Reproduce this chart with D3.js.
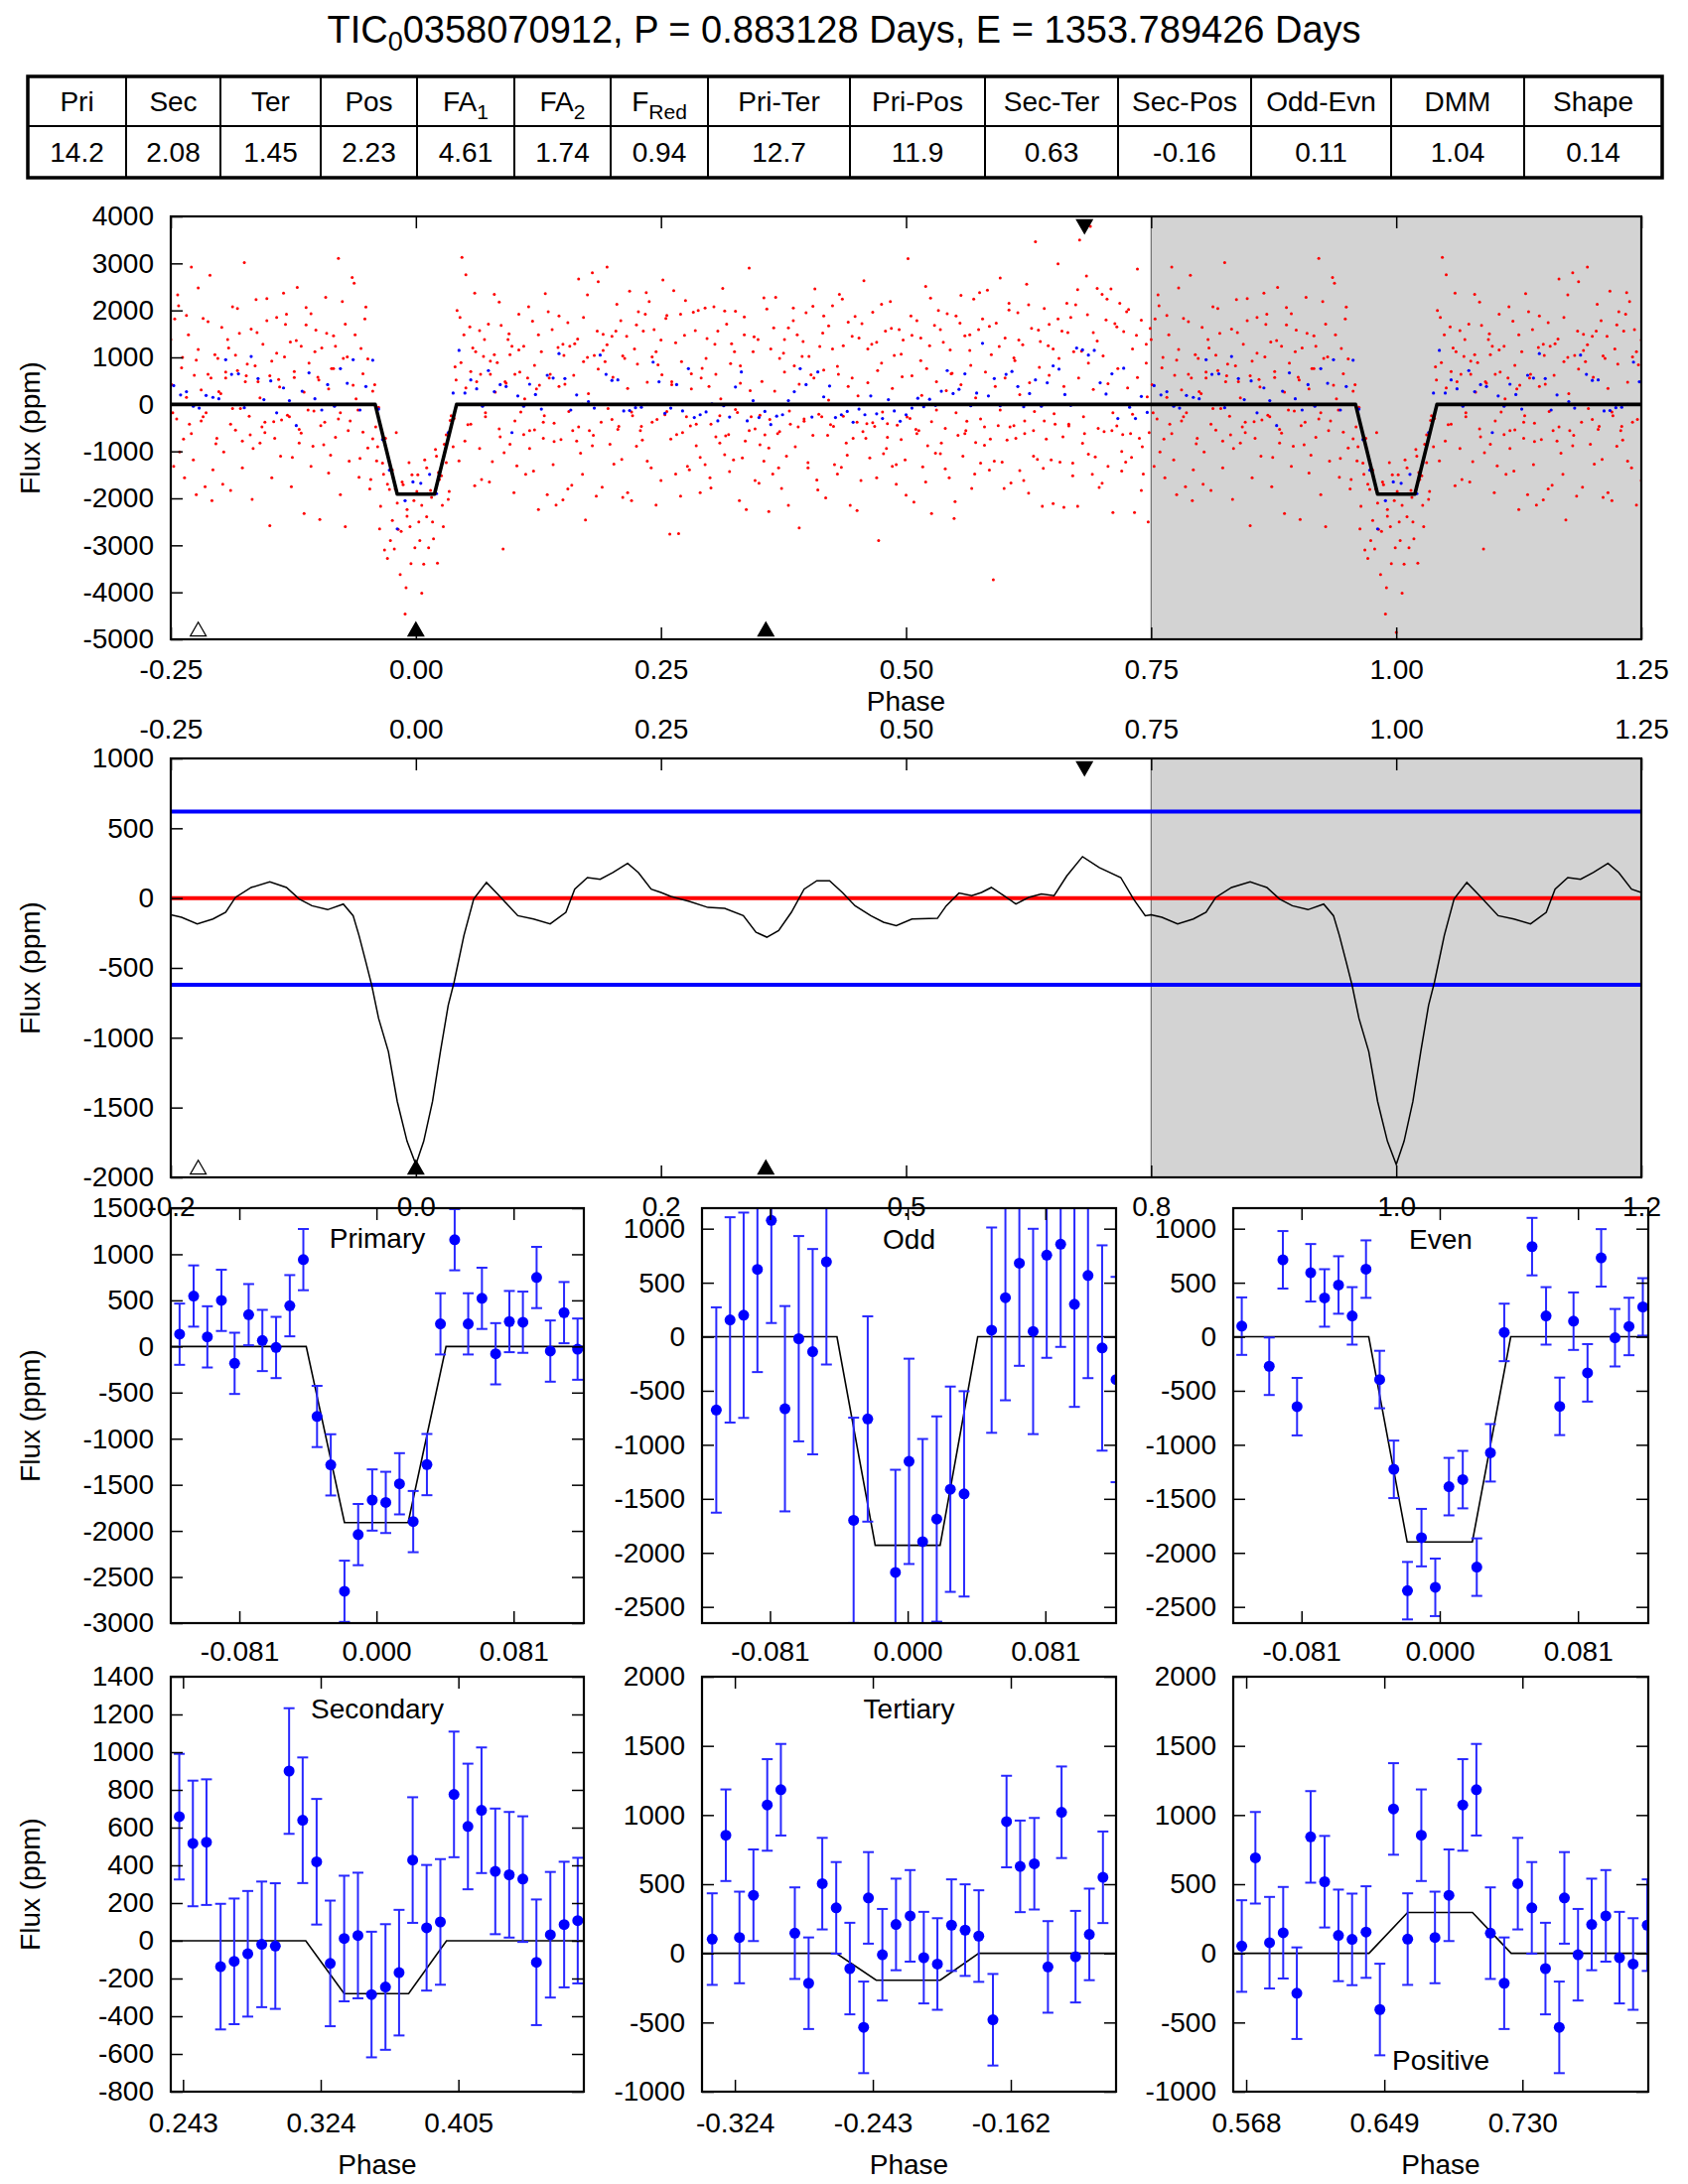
<!DOCTYPE html>
<html lang="en">
<head>
<meta charset="UTF-8">
<title>TIC 00358070912 phase-folded light curve</title>
<script src="https://cdnjs.cloudflare.com/ajax/libs/d3/7.6.1/d3.min.js"></script>
<style>
  body { margin: 0; background: #fff; }
  svg { font-family: "Liberation Sans", Arial, Helvetica, sans-serif; }
</style>
</head>
<body>
<div id="chart"></div>
<script>
// ---- table ----
const tableHead = ["Pri", "Sec", "Ter", "Pos", "FA_1", "FA_2", "F_Red", "Pri-Ter", "Pri-Pos", "Sec-Ter", "Sec-Pos", "Odd-Evn", "DMM", "Shape"];
const tableVals = ["14.2", "2.08", "1.45", "2.23", "4.61", "1.74", "0.94", "12.7", "11.9", "0.63", "-0.16", "0.11", "1.04", "0.14"];

// ---- phase events (triangles): tertiary, primary, secondary, positive ----
const eventPhase = [-0.222, 0.0, 0.357, 0.682];
const eventKind = ["open", "up", "up", "down"];

// ---- top panel: unbinned (red) and binned (blue) flux, phase in 1/1000 ----
const redPts = [
  [-250,1380],[-248,-180],[-246,1820],[-243,2330],[-241,-1010],[-238,1000],[-236,-1560],[-234,1890],[-231,-420],[-229,2920],
  [-226,620],[-224,-1920],[-222,1170],[-219,-350],[-217,1830],[-215,-1750],[-212,640],[-210,2750],[-208,-2050],[-205,1060],
  [-203,-720],[-201,270],[-198,1640],[-196,-1010],[-194,560],[-191,1200],[-189,-1830],[-187,2080],[-184,-550],[-182,720],
  [-180,1510],[-177,-780],[-175,3020],[-173,610],[-170,-250],[-168,1600],[-166,-940],[-163,2230],[-161,480],[-159,-820],
  [-156,1280],[-154,-600],[-152,1780],[-149,-2580],[-147,920],[-145,-370],[-142,1850],[-140,530],[-138,-1100],[-135,2370],
  [-133,1700],[-131,-230],[-128,1330],[-126,-1130],[-124,570],[-121,2490],[-119,-820],[-117,1240],[-114,-2320],[-112,1690],
  [-110,-120],[-107,1930],[-105,-890],[-103,1120],[-100,580],[-98,-2450],[-96,1200],[-93,-380],[-91,1510],[-89,-1460],
  [-86,760],[-84,1460],[-82,-700],[-79,3110],[-77,-180],[-75,2190],[-72,-2600],[-70,1010],[-68,-1210],[-65,2700],
  [-63,2580],[-61,120],[-58,-1550],[-56,1190],[-54,-590],[-51,2070],[-49,970],[-47,-1800],[-44,-730],[-42,420],
  [-40,-1200],[-38,-60],[-36,-2170],[-33,-1490],[-31,-720],[-29,-3280],[-27,-1810],[-24,-2470],[-22,-3080],[-20,-600],
  [-18,-2660],[-16,-3620],[-13,-1710],[-11,-4460],[-9,-2240],[-7,-1240],[-5,-3390],[-2,-2050],[0,-4850],[2,-1500],
  [4,-2900],[6,-4020],[9,-1180],[11,-2390],[13,-3050],[15,-1830],[18,-2860],[20,-960],[22,-3380],[24,-1600],
  [27,-2150],[29,-850],[31,-1240],[33,-2020],[35,-340],[38,-900],[40,800],[42,2000],[44,-1200],[47,3130],
  [49,1480],[51,2760],[53,-430],[56,700],[58,1200],[60,-1730],[62,480],[65,1570],[67,-1600],[69,1020],
  [71,-260],[74,1710],[76,640],[78,-1220],[80,2340],[83,890],[85,-520],[87,1680],[89,-3080],[92,450],
  [94,1380],[96,-850],[98,1240],[101,640],[103,-1310],[105,1920],[107,-160],[110,1240],[112,-1490],[114,560],
  [116,-940],[119,1770],[121,-540],[123,330],[125,-2240],[128,1120],[130,-720],[132,2360],[134,-1920],[137,640],
  [139,1590],[141,-400],[143,-2140],[146,1880],[148,-750],[150,1280],[152,430],[155,-1800],[157,1240],[159,-1720],
  [162,1290],[164,-780],[166,2670],[168,-1040],[171,1850],[173,-2460],[175,1000],[177,-560],[180,2800],[182,1040],
  [184,-1950],[186,2610],[189,-380],[191,1490],[193,910],[195,2920],[198,-850],[200,1450],[202,-1270],[204,1560],
  [207,-470],[209,1780],[211,-1980],[213,980],[216,-1880],[218,2410],[220,-160],[223,1180],[225,-890],[227,1970],
  [229,-560],[232,1560],[234,1920],[236,-1210],[238,2190],[241,-380],[243,1590],[245,-2140],[247,840],[250,1370],
  [252,2650],[254,-220],[256,1890],[259,-2760],[261,480],[263,2420],[265,-1480],[268,-2750],[270,1920],[272,-600],
  [274,1470],[277,-1320],[279,-1390],[281,650],[283,1960],[286,-420],[288,2000],[290,-1880],[292,770],[295,-1280],
  [297,1400],[299,380],[301,-1780],[304,2080],[306,-690],[308,1560],[310,-240],[313,2470],[315,-1070],[317,1710],
  [319,-640],[322,1290],[324,-1180],[326,1980],[328,-170],[331,820],[333,-1140],[335,1480],[337,-2240],[340,2900],
  [342,-260],[344,1120],[346,-1620],[349,1380],[351,-860],[353,490],[355,-1210],[358,2030],[360,-2280],[362,1180],
  [364,-1480],[367,2280],[369,-620],[371,980],[373,-1790],[376,1380],[378,-1100],[380,1630],[382,-420],[385,2050],
  [387,-900],[389,1480],[391,-2630],[394,1020],[396,-310],[398,1950],[400,-1350],[403,630],[405,-660],[407,2460],
  [409,-1610],[412,1230],[414,-260],[416,1880],[418,-1990],[421,1670],[423,-430],[425,2100],[427,-1280],[430,810],
  [432,2340],[434,-1340],[436,1250],[439,-820],[441,1750],[443,-2150],[445,560],[448,1870],[450,-380],[452,1410],
  [454,-1620],[457,2630],[459,-720],[461,1180],[463,-1140],[466,1960],[468,-470],[470,1320],[472,-2900],[475,880],
  [477,-1050],[479,1560],[481,-410],[484,2190],[486,-1320],[488,1040],[490,-1700],[493,1590],[495,-750],[497,1370],
  [499,-1180],[502,3100],[504,-300],[506,1470],[508,-2080],[511,1780],[513,-560],[515,930],[517,-1330],[520,2510],
  [522,-880],[524,1250],[526,-2320],[529,1680],[531,-120],[533,2000],[535,-1050],[538,1320],[540,-510],[542,1930],
  [544,-1560],[547,660],[549,-2430],[551,1880],[553,-660],[556,2320],[558,-1100],[560,1460],[562,-360],[565,1150],
  [567,-1790],[569,2240],[571,-810],[574,1590],[576,-1250],[578,1820],[580,-480],[583,2430],[585,-1400],[587,1060],
  [589,-3730],[592,1730],[594,-450],[596,2690],[598,-1230],[601,1410],[603,-760],[605,2150],[607,-1670],[610,990],
  [612,-720],[614,1950],[616,-1410],[619,1270],[621,-350],[623,2560],[625,-1890],[628,1620],[630,-560],[632,3460],
  [634,-1170],[637,1340],[639,-2170],[641,2040],[643,-740],[646,1700],[648,-1180],[650,1180],[652,-420],[655,2990],
  [657,-1230],[659,1560],[661,-2190],[664,2150],[666,-460],[668,1850],[670,-1520],[673,2120],[675,-2170],[677,3500],
  [679,1130],[682,-620],[684,2730],[686,-1060],[688,3790],[691,1530],[693,-1120],[695,2470],[697,-1770],[700,2340],
  [702,-580],[704,1800],[706,-1320],[709,2460],[711,-2300],[713,1720],[715,-460],[718,2150],[720,-1000],[722,1550],
  [724,-1230],[727,2020],[729,-620],[731,1180],[733,-2300],[736,2880],[738,-720],[740,1790],[742,-1480],[745,880],[747,-2500],[749,1620],
  [-249,420],[-244,-310],[-239,780],[-234,150],[-229,-620],[-224,940],[-219,310],[-214,-180],[-209,560],[-204,-840],
  [-199,230],[-194,690],[-189,-420],[-184,1050],[-179,-90],[-174,480],[-169,-650],[-164,820],[-159,140],[-154,-380],
  [-149,610],[-144,-720],[-139,370],[-134,1010],[-129,-260],[-124,700],[-119,-530],[-114,260],[-109,880],[-104,-140],
  [-99,520],[-94,-860],[-89,330],[-84,760],[-79,-310],[-74,980],[-69,-560],[-64,410],[-59,-120],[-54,650],
  [-49,-930],[-44,280],[-39,-900],[-34,-1250],[-29,-1700],[-24,-1400],[-19,-2100],[-14,-1650],[-9,-2380],[-4,-1500],
  [1,-1850],[6,-2150],[11,-1350],[16,-1980],[21,-1100],[26,-1520],[31,-650],[36,-240],[41,520],[46,890],
  [51,350],[56,-420],[61,1120],[66,640],[71,-180],[76,920],[81,260],[86,-690],[91,480],[96,1060],
  [101,-350],[106,690],[111,120],[116,-560],[121,830],[126,410],[131,-240],[136,560],[141,-790],[146,380],
  [151,1040],[156,-150],[161,620],[166,-480],[171,910],[176,230],[181,-660],[186,750],[191,1150],[196,-90],
  [201,580],[206,-530],[211,1030],[216,340],[221,-240],[226,860],[231,-760],[236,470],[241,1010],[246,-320],
  [251,630],[256,-150],[261,420],[266,-640],[271,910],[276,-260],[281,330],[286,-880],[291,560],[296,980],
  [301,-420],[306,640],[311,120],[316,-670],[321,870],[326,-110],[331,450],[336,-780],[341,290],[346,-520],
  [351,-230],[356,-650],[361,-320],[366,280],[371,-580],[376,690],[381,-140],[386,820],[391,430],[396,-360],
  [401,1020],[406,560],[411,-210],[416,730],[421,90],[426,-470],[431,640],[436,-250],[441,380],[446,-720],
  [451,180],[456,-580],[461,460],[466,-390],[471,720],[476,-160],[481,-700],[486,340],[491,-440],[496,590],
  [501,-270],[506,610],[511,-620],[516,190],[521,760],[526,-370],[531,480],[536,-820],[541,290],[546,650],
  [551,-180],[556,420],[561,-560],[566,830],[571,140],[576,-310],[581,690],[586,-740],[591,380],[596,-120],
  [601,560],[606,-480],[611,930],[616,210],[621,-620],[626,460],[631,-150],[636,790],[641,-350],[646,620],
  [651,-200],[656,980],[661,380],[666,-420],[671,1120],[676,560],[681,-260],[686,880],[691,320],[696,-510],
  [701,1030],[706,440],[711,-180],[716,760],[721,-640],[726,350],[731,-210],[736,570],[741,-900],[746,160],
  [-247,-1320],[-242,2100],[-237,-740],[-232,1480],[-227,-1180],[-222,2480],[-217,-260],[-212,1760],[-207,-1390],[-202,980],
  [-197,-1700],[-192,1380],[-187,-90],[-182,2040],[-177,-1350],[-172,860],[-167,-2020],[-162,1530],[-157,-480],[-152,2250],
  [-147,-1560],[-142,1090],[-137,-330],[-132,1920],[-127,-1750],[-122,1360],[-117,-610],[-112,2060],[-107,-1320],[-102,1580],
  [-97,-450],[-92,2280],[-87,-1080],[-82,1240],[-77,-1920],[-72,1710],[-67,-350],[-62,1480],[-57,-1150],[-52,1820],
  [-46,-1600],[-41,-480],[-37,-2650],[-32,-3100],[-26,-2900],[-21,-1800],[-15,-2700],[-10,-3900],[-6,-2600],[-1,-3050],
  [3,-2500],[8,-3400],[12,-1900],[17,-2500],[23,-1450],[28,-2600],[34,-1850],[39,-300],[45,1850],[50,-780],
  [55,1650],[60,2370],[65,-940],[70,1380],[75,-1650],[80,1060],[85,2180],[90,-1030],[95,1500],[100,-1880],
  [105,1160],[110,-640],[115,2080],[120,-1420],[125,1480],[130,-380],[135,1970],[140,-1280],[145,1210],[150,-2030],
  [155,1740],[160,-560],[165,1390],[170,-1490],[175,2330],[180,-880],[185,1560],[190,-1760],[195,1270],[200,-320],
  [205,2130],[210,-1170],[215,1450],[220,-2050],[225,1690],[230,-470],[235,2380],[240,-1350],[245,1120],[250,-1620],
  [255,1830],[260,-740],[265,1310],[270,-1950],[275,2210],[280,-460],[285,1570],[290,-1130],[295,2050],[300,-1560],
  [305,1280],[310,-820],[315,1990],[320,-1430],[325,1120],[330,-2050],[335,1860],[340,-560],[345,1440],[350,-1680],
  [355,2270],[360,-930],[365,1630],[370,-1350],[375,1090],[380,-2150],[385,1780],[390,-480],[395,1340],[400,-1240],
  [405,2090],[410,-1820],[415,1520],[420,-660],[425,1180],[430,-1480],[435,2240],[440,-1080],[445,1450],[450,-2260],
  [455,1720],[460,-410],[465,1280],[470,-1560],[475,2130],[480,-940],[485,1620],[490,-1280],[495,1070],[500,-1930],
  [505,1880],[510,-530],[515,1410],[520,-1650],[525,2260],[530,-1040],[535,1590],[540,-1370],[545,1160],[550,-2070],
  [555,1730],[560,-620],[565,1480],[570,-1480],[575,2380],[580,-870],[585,1660],[590,-1210],[595,1230],[600,-1790],
  [605,2010],[610,-450],[615,1370],[620,-1620],[625,2120],[630,-1100],[635,1580],[640,-1360],[645,1250],[650,-2110],
  [655,1820],[660,-690],[665,1530],[670,-1250],[675,2440],[680,-830],[685,1910],[690,-1490],[695,1350],[700,-1680],
  [705,2240],[710,-560],[715,1650],[720,-1420],[725,1970],[730,-1130],[735,1470],[740,-1830],[745,1280],[748,-600]
];
const bluePts = [
  [-247,400],[-240,200],[-234,270],[-227,-40],[-221,-80],[-214,190],[-207,150],[-201,120],[-194,950],[-188,640],
  [-181,650],[-175,-70],[-168,1020],[-161,550],[-155,100],[-148,500],[-142,-180],[-135,350],[-129,80],[-122,-450],
  [-116,280],[-109,670],[-103,120],[-96,-120],[-90,420],[-83,-40],[-77,760],[-70,450],[-64,950],[-57,-120],
  [-51,380],[-44,940],[-38,-100],[-34,-750],[-27,-1400],[-19,-2650],[-11,-2050],[-3,-1650],[5,-1680],[14,-1490],
  [21,-1900],[27,-1250],[33,-600],[38,240],[44,1150],[50,240],[56,520],[62,330],[68,-40],[74,720],
  [80,270],[86,420],[92,380],[98,-600],[104,180],[110,-40],[116,430],[122,210],[128,-100],[134,620],
  [140,560],[146,1080],[152,550],[158,-120],[164,200],[170,0],[176,60],[182,-80],[188,1050],[194,640],
  [200,510],[206,520],[212,-140],[218,-130],[224,-70],[230,-60],[236,0],[242,900],[248,480],[254,-190],
  [260,-80],[266,420],[272,-140],[278,760],[284,-280],[290,-220],[296,-160],[302,10],[308,-350],[314,-30],
  [320,-270],[326,370],[332,690],[338,-350],[344,80],[350,-280],[356,-150],[362,-430],[368,-250],[374,-220],
  [380,80],[386,270],[392,760],[398,420],[404,-270],[410,690],[416,160],[422,390],[428,-280],[434,-220],
  [440,-150],[446,-380],[452,-100],[458,-220],[464,180],[470,-200],[476,-300],[482,100],[488,-140],[494,-360],
  [500,-220],[506,-80],[512,130],[518,-50],[524,110],[530,-20],[536,280],[542,720],[548,230],[554,320],
  [560,650],[566,-30],[572,240],[578,1300],[584,180],[590,550],[596,-30],[602,640],[608,700],[614,380],
  [620,-50],[626,230],[632,520],[638,-40],[644,460],[650,820],[656,750],[662,210],[668,-20],[674,1200],
  [680,1160],[686,1050],[692,1150],[698,460],[704,220],[710,650],[716,-300],[722,770],[728,-60],[734,-300],[740,170],[746,-170]
];
const modelPhase = [-0.25, -0.0415, -0.019, 0.019, 0.0415, 0.25, 0.75];
const modelFlux = [0, 0, -1910, -1910, 0, 0, 0];

// ---- second panel: smoothed curve ----
const smoothPhase = [-0.250,-0.239,-0.223,-0.207,-0.194,-0.184,-0.168,-0.149,-0.132,-0.119,
  -0.106,-0.090,-0.074,-0.064,-0.058,-0.051,-0.045,-0.038,-0.028,-0.019,
  -0.009,0.000,0.008,0.017,0.025,0.033,0.039,0.049,0.059,0.072,
  0.085,0.104,0.120,0.137,0.153,0.162,0.175,0.188,0.201,0.216,
  0.227,0.240,0.250,0.260,0.279,0.298,0.315,0.334,0.347,0.358,
  0.370,0.383,0.396,0.409,0.422,0.435,0.448,0.464,0.477,0.490,
  0.506,0.532,0.541,0.554,0.567,0.577,0.587,0.600,0.612,0.625,
  0.638,0.651,0.664,0.680,0.697,0.719,0.732,0.744,0.750];
const smoothFlux = [-119,-138,-185,-150,-102,5,76,116,76,-7,
  -55,-83,-43,-126,-268,-458,-625,-862,-1100,-1456,
  -1741,-1907,-1741,-1456,-1100,-767,-601,-268,-7,112,
  17,-126,-150,-185,-102,64,147,135,183,249,
  183,64,40,12,-24,-67,-74,-126,-245,-280,
  -233,-102,64,124,124,40,-55,-126,-173,-197,
  -150,-145,-55,36,17,40,76,17,-43,5,
  29,17,159,297,219,147,-7,-126,-120];
const sigmaLines = [620, -620];
const p2BottomLabels = ["-0.2", "0.0", "0.2", "0.5", "0.8", "1.0", "1.2"];

// ---- binned panels ----
const priPhase = [-0.1163,-0.1080,-0.0999,-0.0916,-0.0838,-0.0755,-0.0674,-0.0593,-0.0512,-0.0432,-0.0351,-0.0270,-0.0189,-0.0108,-0.0025,0.0055,0.0136,0.0217,0.0298,0.0378,0.0462,0.0542,0.0623,0.0704,0.0785,0.0865,0.0946,0.1027,0.1108,0.1188];
const priFlux = [133,547,104,500,-183,345,65,-11,442,942,-759,-1284,-2655,-2040,-1665,-1691,-1489,-1899,-1281,245,1158,245,522,-79,270,263,748,-50,367,-29];
const priErr = 332;
const priModelPhase = [-0.1215,-0.0415,-0.0189,0.0187,0.0411,0.1225];
const priModelFlux = [0,0,-1910,-1910,0,0];

const oddPhase = [-0.1126,-0.1045,-0.0965,-0.0884,-0.0802,-0.0722,-0.0641,-0.0559,-0.0478,-0.0318,-0.0235,-0.0072,0.0008,0.0088,0.0171,0.0251,0.0332,0.0494,0.0575,0.0657,0.0738,0.0818,0.0900,0.0981,0.1061,0.1144,0.1226];
const oddFlux = [-678,156,199,623,1077,-666,-18,-138,693,-1699,-761,-2181,-1153,-1896,-1687,-1411,-1454,61,362,681,49,755,856,301,567,-104,-396];
const oddErr = 950;
const oddModelPhase = [-0.1215,-0.0416,-0.0191,0.0191,0.0412,0.1225];
const oddModelFlux = [0,0,-1930,-1930,0,0];

const evenPhase = [-0.1160,-0.0999,-0.0919,-0.0836,-0.0756,-0.0675,-0.0593,-0.0513,-0.0432,-0.0352,-0.0269,-0.0189,-0.0107,-0.0026,0.0054,0.0135,0.0217,0.0297,0.0378,0.0541,0.0623,0.0703,0.0784,0.0866,0.0946,0.1027,0.1109,0.1190];
const evenFlux = [98,-273,712,-647,592,359,479,193,626,-396,-1227,-2350,-1859,-2319,-1387,-1322,-2132,-1074,40,834,193,-644,144,-334,730,-9,95,276];
const evenErr = 266;
const evenModelPhase = [-0.1215,-0.0416,-0.0191,0.0191,0.0416,0.1225];
const evenModelFlux = [0,0,-1899,-1899,0,0];

const secPhase = [0.2408,0.2488,0.2568,0.2651,0.2731,0.2811,0.2893,0.2973,0.3054,0.3134,0.3216,0.3296,0.3378,0.3459,0.3539,0.3621,0.3701,0.3781,0.3863,0.3944,0.4024,0.4106,0.4186,0.4267,0.4349,0.4429,0.4509,0.4591,0.4672,0.4752];
const secFlux = [658,516,523,-137,-109,-69,-19,-28,900,639,419,-120,12,28,-285,-245,-169,428,69,100,776,606,692,368,350,327,-114,32,86,107];
const secErr = 333;
const secModelPhase = [0.2358,0.3152,0.3378,0.3757,0.3980,0.4788];
const secModelFlux = [0,0,-280,-280,0,0];

const terPhase = [-0.3373,-0.3293,-0.3213,-0.3131,-0.3050,-0.2970,-0.2888,-0.2807,-0.2727,-0.2645,-0.2565,-0.2484,-0.2456,-0.2374,-0.2294,-0.2211,-0.2131,-0.2051,-0.1968,-0.1888,-0.1808,-0.1725,-0.1645,-0.1565,-0.1482,-0.1402,-0.1322,-0.1240,-0.1159,-0.1079];
const terFlux = [103,854,115,420,1073,1183,146,-216,504,329,-110,-535,401,-10,209,271,-31,-77,204,168,125,-480,953,629,648,-98,1020,-24,137,550];
const terErr = 331;
const terModelPhase = [-0.3433,-0.2645,-0.2410,-0.2035,-0.1808,-0.1002];
const terModelFlux = [0,0,-194,-194,0,0];

const posPhase = [0.5654,0.5734,0.5817,0.5897,0.5977,0.6058,0.6140,0.6221,0.6301,0.6383,0.6464,0.6544,0.6627,0.6707,0.6787,0.6869,0.6950,0.7030,0.7112,0.7193,0.7273,0.7355,0.7435,0.7516,0.7546,0.7626,0.7706,0.7789,0.7869,0.7949,0.8032];
const posFlux = [53,691,77,149,-288,842,518,130,101,154,-406,1044,103,854,115,420,1073,1183,146,-216,504,329,-110,-535,401,-10,209,271,-31,-77,204];
const posErr = 331;
const posModelPhase = [0.5604,0.6400,0.6627,0.7007,0.7234,0.8038];
const posModelFlux = [0,0,295,295,0,0];

// tick values
const topXTicks = [-0.25, 0, 0.25, 0.5, 0.75, 1.0, 1.25];
const topYTicks = [4000, 3000, 2000, 1000, 0, -1000, -2000, -3000, -4000, -5000];
const p2YTicks = [1000, 500, 0, -500, -1000, -1500, -2000];
const priYTicks = [1500, 1000, 500, 0, -500, -1000, -1500, -2000, -2500, -3000];
const oeYTicks = [1000, 500, 0, -500, -1000, -1500, -2000, -2500];
const secYTicks = [1400, 1200, 1000, 800, 600, 400, 200, 0, -200, -400, -600, -800];
const tpYTicks = [2000, 1500, 1000, 500, 0, -500, -1000];

// ================= drawing =================
const fs = 28;
const svg = d3.select("#chart").append("svg").attr("width", 1700).attr("height", 2200);
let clipId = 0;

// title
const title = svg.append("text").attr("x", 850).attr("y", 43).attr("text-anchor", "middle").attr("font-size", 38);
title.append("tspan").text("TIC");
title.append("tspan").attr("font-size", 27).attr("dy", 8).text("0");
title.append("tspan").attr("dy", -8).text("0358070912, P = 0.883128 Days, E = 1353.789426 Days");

// table
const colEdges = [28, 127, 222, 323, 420, 518, 615, 713, 856, 992, 1126, 1260, 1401, 1535, 1674];
const tb = svg.append("g");
tb.append("rect").attr("x", 28).attr("y", 77).attr("width", 1646).attr("height", 102)
  .attr("fill", "none").attr("stroke", "#000").attr("stroke-width", 3.5);
tb.append("line").attr("x1", 28).attr("x2", 1674).attr("y1", 127).attr("y2", 127).attr("stroke", "#000").attr("stroke-width", 2);
colEdges.slice(1, -1).forEach(cx => {
  tb.append("line").attr("x1", cx).attr("x2", cx).attr("y1", 77).attr("y2", 179).attr("stroke", "#000").attr("stroke-width", 2);
});
tableHead.forEach((h, i) => {
  const cx = (colEdges[i] + colEdges[i + 1]) / 2;
  const parts = h.split("_");
  const t = tb.append("text").attr("x", cx).attr("y", 112).attr("text-anchor", "middle").attr("font-size", fs);
  t.append("tspan").text(parts[0]);
  if (parts[1]) t.append("tspan").attr("font-size", 21).attr("dy", 8).text(parts[1]);
  tb.append("text").attr("x", cx).attr("y", 163).attr("text-anchor", "middle").attr("font-size", fs).text(tableVals[i]);
});

function makePanel(o) {
  const x = d3.scaleLinear().domain(o.xd).range([o.l, o.r]);
  const y = d3.scaleLinear().domain(o.yd).range([o.b, o.t]);
  const id = "clip" + (clipId++);
  svg.append("clipPath").attr("id", id).append("rect")
    .attr("x", o.l).attr("y", o.t).attr("width", o.r - o.l).attr("height", o.b - o.t);
  const plot = svg.append("g").attr("clip-path", `url(#${id})`);
  return { x, y, plot, o };
}

function drawAxis(gen, tx, ty, keepLabels) {
  const g = svg.append("g").attr("transform", `translate(${tx},${ty})`).call(gen);
  g.attr("font-size", fs).attr("font-family", null);
  g.select(".domain").remove();
  g.selectAll(".tick line").attr("stroke-width", 1.5);
  if (!keepLabels) g.selectAll(".tick text").remove();
  return g;
}

function border(o) {
  svg.append("rect").attr("x", o.l).attr("y", o.t).attr("width", o.r - o.l).attr("height", o.b - o.t)
    .attr("fill", "none").attr("stroke", "#000").attr("stroke-width", 2.2);
}

function yLabel(o) {
  const cy = (o.t + o.b) / 2;
  svg.append("text").attr("transform", `translate(40,${cy}) rotate(-90)`).attr("text-anchor", "middle")
    .attr("font-size", fs).text("Flux (ppm)");
}

function shade(p) {
  p.plot.append("rect").attr("x", p.x(0.75)).attr("y", p.o.t).attr("width", p.x(1.25) - p.x(0.75)).attr("height", p.o.b - p.o.t)
    .attr("fill", "#d3d3d3");
  p.plot.append("line").attr("x1", p.x(0.75)).attr("x2", p.x(0.75)).attr("y1", p.o.t).attr("y2", p.o.b)
    .attr("stroke", "#6e6e6e").attr("stroke-width", 1.2);
}

function events(p) {
  const tri = d3.symbol().type(d3.symbolTriangle).size(110);
  eventPhase.forEach((ph, i) => {
    const k = eventKind[i];
    const cy = k === "down" ? p.o.t + 8 : p.o.b - 8;
    svg.append("path").attr("d", tri())
      .attr("transform", `translate(${p.x(ph)},${cy})` + (k === "down" ? " rotate(180)" : ""))
      .attr("fill", k === "open" ? "#fff" : "#000").attr("stroke", "#000").attr("stroke-width", 1.2);
  });
}

// wrap a phase series so the -0.25..0.25 part repeats at 0.75..1.25
function wrapPts(pts) {
  return pts.concat(pts.filter(d => d[0] <= 0.25).map(d => [d[0] + 1, d[1]]));
}

// ---------- panel 1 ----------
const o1 = { l: 172, r: 1653, t: 218, b: 644, xd: [-0.25, 1.25], yd: [-5000, 4000] };
const p1 = makePanel(o1);
shade(p1);
const red = wrapPts(redPts.map(d => [d[0] / 1000, d[1]]));
const blue = wrapPts(bluePts.map(d => [d[0] / 1000, d[1]]));
p1.plot.append("g").attr("fill", "#ff0000").selectAll("circle").data(red).join("circle")
  .attr("cx", d => p1.x(d[0])).attr("cy", d => p1.y(d[1])).attr("r", 1.5);
p1.plot.append("g").attr("fill", "#0000ff").selectAll("circle").data(blue).join("circle")
  .attr("cx", d => p1.x(d[0])).attr("cy", d => p1.y(d[1])).attr("r", 1.6);
const model = wrapPts(d3.zip(modelPhase, modelFlux)).sort((a, b) => a[0] - b[0]);
p1.plot.append("path").datum(model)
  .attr("d", d3.line().x(d => p1.x(d[0])).y(d => p1.y(d[1])))
  .attr("fill", "none").attr("stroke", "#000").attr("stroke-width", 3.6).attr("stroke-linejoin", "round");
drawAxis(d3.axisBottom(p1.x).tickValues(topXTicks).tickSize(-12).tickPadding(20).tickFormat(d => d.toFixed(2)), 0, o1.b, true);
drawAxis(d3.axisTop(p1.x).tickValues(topXTicks).tickSize(-12), 0, o1.t, false);
drawAxis(d3.axisLeft(p1.y).tickValues(topYTicks).tickSize(-12).tickPadding(17).tickFormat(d => String(d)), o1.l, 0, true);
border(o1);
events(p1);
yLabel(o1);
svg.append("text").attr("x", (o1.l + o1.r) / 2).attr("y", 716).attr("text-anchor", "middle").attr("font-size", fs).text("Phase");

// ---------- panel 2 ----------
const o2 = { l: 172, r: 1653, t: 764, b: 1186, xd: [-0.25, 1.25], yd: [-2000, 1000] };
const p2 = makePanel(o2);
shade(p2);
sigmaLines.forEach(v => {
  p2.plot.append("line").attr("x1", o2.l).attr("x2", o2.r).attr("y1", p2.y(v)).attr("y2", p2.y(v))
    .attr("stroke", "#0000ff").attr("stroke-width", 4);
});
p2.plot.append("line").attr("x1", o2.l).attr("x2", o2.r).attr("y1", p2.y(0)).attr("y2", p2.y(0))
  .attr("stroke", "#ff0000").attr("stroke-width", 4);
const smooth = wrapPts(d3.zip(smoothPhase, smoothFlux).filter(d => d[0] < 0.75).concat([[0.75, smoothFlux[smoothFlux.length - 1]]]));
smooth.sort((a, b) => a[0] - b[0]);
p2.plot.append("path").datum(smooth)
  .attr("d", d3.line().x(d => p2.x(d[0])).y(d => p2.y(d[1])))
  .attr("fill", "none").attr("stroke", "#000").attr("stroke-width", 1.5);
drawAxis(d3.axisTop(p2.x).tickValues(topXTicks).tickSize(-12).tickPadding(20).tickFormat(d => d.toFixed(2)), 0, o2.t, true);
drawAxis(d3.axisBottom(p2.x).tickValues(topXTicks).tickSize(-12).tickPadding(19).tickFormat((d, i) => p2BottomLabels[i]), 0, o2.b, true);
drawAxis(d3.axisLeft(p2.y).tickValues(p2YTicks).tickSize(-12).tickPadding(17).tickFormat(d => String(d)), o2.l, 0, true);
border(o2);
events(p2);
yLabel(o2);

// ---------- binned panels ----------
function binPanel(o, phase, flux, err, mPhase, mFlux, xTicks, yTicks, label, labelY, xLabel) {
  const p = makePanel(o);
  p.plot.append("path").datum(d3.zip(mPhase, mFlux))
    .attr("d", d3.line().x(d => p.x(d[0])).y(d => p.y(d[1])))
    .attr("fill", "none").attr("stroke", "#000").attr("stroke-width", 1.6);
  const pts = d3.zip(phase, flux);
  const eb = p.plot.append("g").attr("stroke", "#2828ff").attr("stroke-width", 2);
  pts.forEach(([ph, f]) => {
    const cx = p.x(ph), yTop = p.y(f + err), yBot = p.y(f - err);
    eb.append("line").attr("x1", cx).attr("x2", cx).attr("y1", yTop).attr("y2", yBot);
    eb.append("line").attr("x1", cx - 5.5).attr("x2", cx + 5.5).attr("y1", yTop).attr("y2", yTop);
    eb.append("line").attr("x1", cx - 5.5).attr("x2", cx + 5.5).attr("y1", yBot).attr("y2", yBot);
  });
  p.plot.append("g").attr("fill", "#0000ff").selectAll("circle").data(pts).join("circle")
    .attr("cx", d => p.x(d[0])).attr("cy", d => p.y(d[1])).attr("r", 5.5);
  const pad = o.row === 1 ? 18 : 21;
  drawAxis(d3.axisBottom(p.x).tickValues(xTicks).tickSize(-12).tickPadding(pad).tickFormat(d => d.toFixed(3)), 0, o.b, true);
  drawAxis(d3.axisTop(p.x).tickValues(xTicks).tickSize(-12), 0, o.t, false);
  drawAxis(d3.axisLeft(p.y).tickValues(yTicks).tickSize(-12).tickPadding(17).tickFormat(d => String(d)), o.l, 0, true);
  drawAxis(d3.axisRight(p.y).tickValues(yTicks).tickSize(-12), o.r, 0, false);
  border(o);
  svg.append("text").attr("x", (o.l + o.r) / 2).attr("y", labelY).attr("text-anchor", "middle").attr("font-size", fs).text(label);
  if (o.l < 200) yLabel(o);
  if (xLabel) svg.append("text").attr("x", (o.l + o.r) / 2).attr("y", 2190).attr("text-anchor", "middle").attr("font-size", fs).text("Phase");
}

const r1 = { t: 1217, b: 1635, row: 1 };
const r2 = { t: 1689, b: 2107, row: 2 };
const cols = [[172, 588], [707, 1124], [1242, 1660]];

binPanel({ ...r1, l: cols[0][0], r: cols[0][1], xd: [-0.1215, 0.1225], yd: [-3000, 1500] },
  priPhase, priFlux, priErr, priModelPhase, priModelFlux, [-0.081, 0, 0.081], priYTicks, "Primary", 1257, false);
binPanel({ ...r1, l: cols[1][0], r: cols[1][1], xd: [-0.1210, 0.1226], yd: [-2650, 1190] },
  oddPhase, oddFlux, oddErr, oddModelPhase, oddModelFlux, [-0.081, 0, 0.081], oeYTicks, "Odd", 1258, false);
binPanel({ ...r1, l: cols[2][0], r: cols[2][1], xd: [-0.1210, 0.1222], yd: [-2650, 1190] },
  evenPhase, evenFlux, evenErr, evenModelPhase, evenModelFlux, [-0.081, 0, 0.081], oeYTicks, "Even", 1258, false);
binPanel({ ...r2, l: cols[0][0], r: cols[0][1], xd: [0.2358, 0.4788], yd: [-800, 1400] },
  secPhase, secFlux, secErr, secModelPhase, secModelFlux, [0.243, 0.324, 0.405], secYTicks, "Secondary", 1731, true);
binPanel({ ...r2, l: cols[1][0], r: cols[1][1], xd: [-0.3433, -0.1002], yd: [-1000, 2000] },
  terPhase, terFlux, terErr, terModelPhase, terModelFlux, [-0.324, -0.243, -0.162], tpYTicks, "Tertiary", 1731, true);
binPanel({ ...r2, l: cols[2][0], r: cols[2][1], xd: [0.5604, 0.8038], yd: [-1000, 2000] },
  posPhase, posFlux, posErr, posModelPhase, posModelFlux, [0.568, 0.649, 0.730], tpYTicks, "Positive", 2085, true);
</script>
</body>
</html>
